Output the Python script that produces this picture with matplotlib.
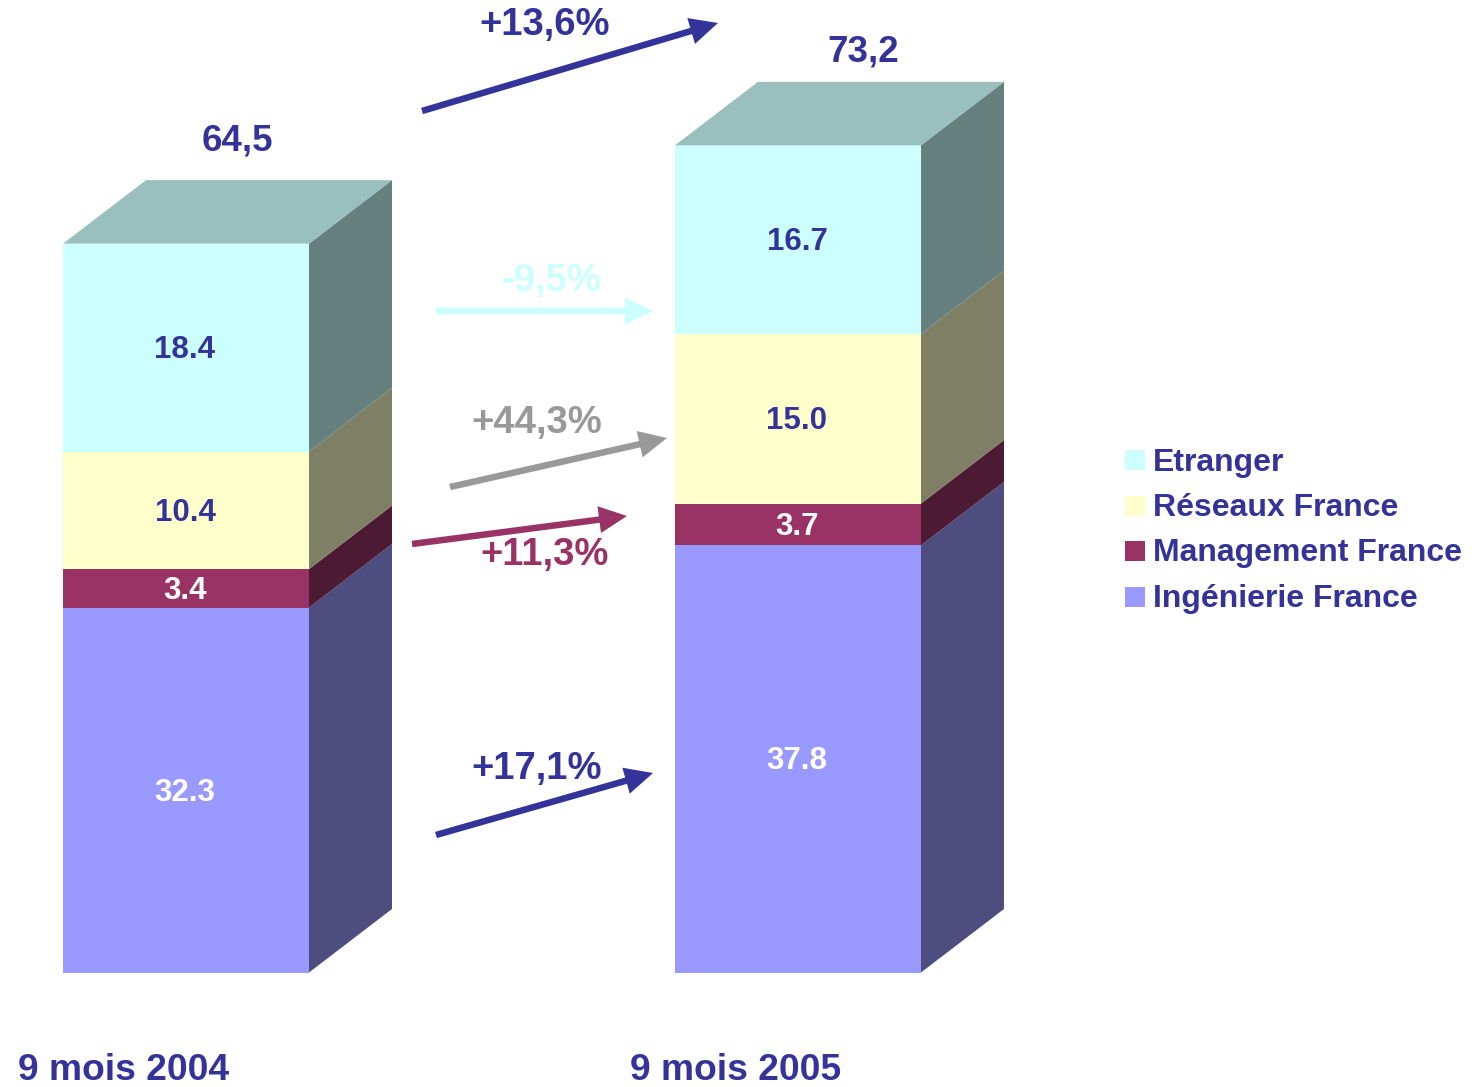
import matplotlib.pyplot as plt
from matplotlib.patches import Polygon, Rectangle

plt.rcParams['font.family'] = ['Liberation Sans', 'DejaVu Sans']

# data
periods = ['9 mois 2004', '9 mois 2005']
series = ['Ingénierie France', 'Management France', 'Réseaux France', 'Etranger']
values = {
    'Ingénierie France': [32.3, 37.8],
    'Management France': [3.4, 3.7],
    'Réseaux France': [10.4, 15.0],
    'Etranger': [18.4, 16.7],
}
growth = ['+13,6%', '-9,5%', '+44,3%', '+11,3%', '+17,1%']

# styles
front = {'Ingénierie France': '#9999FF', 'Management France': '#993366',
         'Réseaux France': '#FFFFCC', 'Etranger': '#CCFFFF'}
side = {'Ingénierie France': '#4D4D7F', 'Management France': '#4C1A33',
        'Réseaux France': '#7F7F66', 'Etranger': '#667F7F'}
top_col = '#99BFBF'
lab_col = {'Ingénierie France': 'white', 'Management France': 'white',
           'Réseaux France': '#333399', 'Etranger': '#333399'}
navy = '#333399'

W, H = 1484, 1087
DPI = 100
fig = plt.figure(figsize=(W / DPI, H / DPI), dpi=DPI)

# main axes: x in pixels, y in value units (11.3 px per unit, zero at pixel 972.5)
scale = 11.3
base = 972.5
ax = fig.add_axes([0, 0, 1, 1])
ax.set_xlim(0, W)
ax.set_ylim(-(H - base) / scale, base / scale)
ax.axis('off')

lefts = [63, 675]
bw = 246
dx = 83
dy = 63.5 / scale
shift = 2.5 / scale  # nudge labels down a little

for i, per in enumerate(periods):
    l = lefts[i]
    bottom = 0.0
    for s in series:
        v = values[s][i]
        ax.bar(l, v, width=bw, bottom=bottom, align='edge', color=front[s],
               linewidth=0)
        t = bottom + v
        ax.add_patch(Polygon([(l + bw, bottom), (l + bw + dx, bottom + dy),
                              (l + bw + dx, t + dy), (l + bw, t)],
                             closed=True, facecolor=side[s], edgecolor='none'))
        ax.text(l + bw / 2 - 1, bottom + v / 2 - shift, '%.1f' % v, ha='center',
                va='center', color=lab_col[s], fontsize=22.5, fontweight='bold')
        bottom = t
    ax.add_patch(Polygon([(l, bottom), (l + dx, bottom + dy),
                          (l + bw + dx, bottom + dy), (l + bw, bottom)],
                         closed=True, facecolor=top_col, edgecolor='none'))

# totals above bars
tot_dx = [174.5, 188]
tot_dy = [9.1, 8.3]
for i, per in enumerate(periods):
    total = sum(values[s][i] for s in series)
    ax.text(lefts[i] + tot_dx[i], total + tot_dy[i], ('%.1f' % total).replace('.', ','),
            ha='center', va='center', color=navy, fontsize=26.5, fontweight='bold')

# overlay axes in pixel coordinates for annotations
ov = fig.add_axes([0, 0, 1, 1])
ov.set_xlim(0, W)
ov.set_ylim(H, 0)
ov.axis('off')
ov.patch.set_alpha(0)

arrows = [((422, 111), (718, 23), navy, (545, 25)),
          ((436, 311), (653, 311), '#CCFFFF', (551, 281)),
          ((450, 487), (667, 438), '#999999', (537, 423)),
          ((412, 544), (627, 516), '#993366', (545, 555)),
          ((436, 835), (653, 773), navy, (537, 769))]
for (tail, tip, c, tpos), g in zip(arrows, growth):
    ov.arrow(tail[0], tail[1], tip[0] - tail[0], tip[1] - tail[1], width=6.5,
             head_width=27, head_length=28, length_includes_head=True,
             facecolor=c, edgecolor='none')
    ov.text(tpos[0], tpos[1], g, ha='center', va='center', color=c,
            fontsize=27.5, fontweight='bold')

# legend
leg_y = [460, 506, 551, 597]
for s, y in zip(series[::-1], leg_y):
    ov.add_patch(Rectangle((1125, y - 10), 20, 20, facecolor=front[s], edgecolor='none'))
    ov.text(1153, y + 2.5, s, ha='left', va='center', color=navy, fontsize=23,
            fontweight='bold')

# category labels
cat_x = [18, 630]
for x, per in zip(cat_x, periods):
    ov.text(x, 1070, per, ha='left', va='center', color=navy, fontsize=26.8,
            fontweight='bold')

fig.savefig('out.png', dpi=DPI)
